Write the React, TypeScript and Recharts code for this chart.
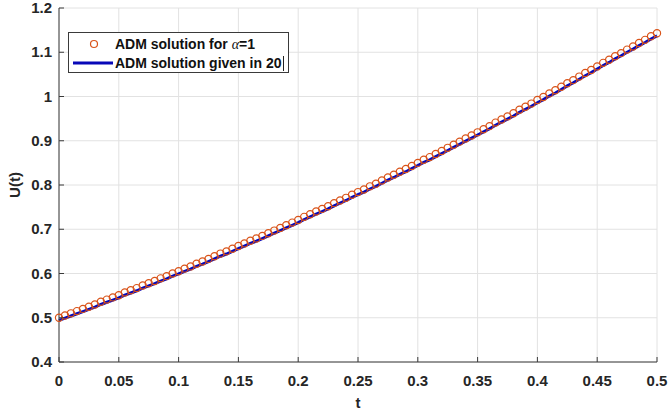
import { CartesianGrid, ComposedChart, Line, XAxis, YAxis } from "recharts";

const T_VALUES = [
  0, 0.005, 0.01, 0.015, 0.02, 0.025, 0.03, 0.035, 0.04, 0.045,
  0.05, 0.055, 0.06, 0.065, 0.07, 0.075, 0.08, 0.085, 0.09, 0.095,
  0.1, 0.105, 0.11, 0.115, 0.12, 0.125, 0.13, 0.135, 0.14, 0.145,
  0.15, 0.155, 0.16, 0.165, 0.17, 0.175, 0.18, 0.185, 0.19, 0.195,
  0.2, 0.205, 0.21, 0.215, 0.22, 0.225, 0.23, 0.235, 0.24, 0.245,
  0.25, 0.255, 0.26, 0.265, 0.27, 0.275, 0.28, 0.285, 0.29, 0.295,
  0.3, 0.305, 0.31, 0.315, 0.32, 0.325, 0.33, 0.335, 0.34, 0.345,
  0.35, 0.355, 0.36, 0.365, 0.37, 0.375, 0.38, 0.385, 0.39, 0.395,
  0.4, 0.405, 0.41, 0.415, 0.42, 0.425, 0.43, 0.435, 0.44, 0.445,
  0.45, 0.455, 0.46, 0.465, 0.47, 0.475, 0.48, 0.485, 0.49, 0.495,
  0.5,
];

// circles: ADM solution for alpha = 1
const ADM_ALPHA1 = [
  0.5, 0.505, 0.51, 0.515, 0.52, 0.525, 0.53, 0.536, 0.541, 0.546,
  0.551, 0.557, 0.562, 0.567, 0.573, 0.578, 0.583, 0.589, 0.594, 0.6,
  0.605, 0.611, 0.616, 0.622, 0.627, 0.633, 0.639, 0.645, 0.65, 0.656,
  0.662, 0.668, 0.674, 0.679, 0.685, 0.691, 0.697, 0.703, 0.709, 0.715,
  0.721, 0.728, 0.734, 0.74, 0.746, 0.752, 0.759, 0.765, 0.771, 0.778,
  0.784, 0.79, 0.797, 0.803, 0.81, 0.817, 0.823, 0.83, 0.836, 0.843,
  0.85, 0.857, 0.863, 0.87, 0.877, 0.884, 0.891, 0.898, 0.905, 0.912,
  0.919, 0.926, 0.933, 0.941, 0.948, 0.955, 0.962, 0.97, 0.977, 0.984,
  0.992, 0.999, 1.007, 1.014, 1.022, 1.03, 1.037, 1.045, 1.053, 1.06,
  1.068, 1.076, 1.083, 1.091, 1.098, 1.106, 1.113, 1.121, 1.128, 1.136,
  1.143,
];

// blue line: ADM solution given in [20]
const ADM_REF = [
  0.494, 0.499, 0.504, 0.509, 0.514, 0.519, 0.524, 0.53, 0.535, 0.54,
  0.545, 0.551, 0.556, 0.561, 0.567, 0.572, 0.577, 0.583, 0.588, 0.594,
  0.599, 0.605, 0.61, 0.616, 0.621, 0.627, 0.633, 0.639, 0.644, 0.65,
  0.656, 0.662, 0.668, 0.673, 0.679, 0.685, 0.691, 0.697, 0.703, 0.709,
  0.715, 0.722, 0.728, 0.734, 0.74, 0.746, 0.753, 0.759, 0.765, 0.772,
  0.778, 0.784, 0.791, 0.797, 0.804, 0.811, 0.817, 0.824, 0.83, 0.837,
  0.844, 0.851, 0.857, 0.864, 0.871, 0.878, 0.885, 0.892, 0.899, 0.906,
  0.913, 0.92, 0.927, 0.935, 0.942, 0.949, 0.956, 0.964, 0.971, 0.978,
  0.986, 0.993, 1.001, 1.008, 1.016, 1.024, 1.031, 1.039, 1.047, 1.054,
  1.062, 1.07, 1.077, 1.085, 1.092, 1.1, 1.107, 1.115, 1.122, 1.13,
  1.137,
];

const X_TICKS = [0, 0.05, 0.1, 0.15, 0.2, 0.25, 0.3, 0.35, 0.4, 0.45, 0.5];
const Y_TICKS = [0.4, 0.5, 0.6, 0.7, 0.8, 0.9, 1, 1.1, 1.2];

const data = T_VALUES.map((t, i) => ({ t, alpha1: ADM_ALPHA1[i], ref: ADM_REF[i] }));

const AXIS = "#3a3a3a";
const TEXT = "#262626";
const FONT = "'Liberation Sans', Arial, sans-serif";
const ORANGE = "#d95319";
const BLUE = "#0808b8";
const TICK_LEN = 5;

const fmt = (v: number) => String(v);

function BottomTick({ x, y, payload }: any) {
  return (
    <g>
      <line x1={x} x2={x} y1={y} y2={y - TICK_LEN} stroke={AXIS} />
      <text x={x} y={y + 24} textAnchor="middle" fill={TEXT} fontFamily={FONT} fontWeight="bold" fontSize={15}>
        {fmt(payload.value)}
      </text>
    </g>
  );
}

function TopTick({ x, y }: any) {
  return <line x1={x} x2={x} y1={y} y2={y + TICK_LEN} stroke={AXIS} />;
}

function LeftTick({ x, y, payload }: any) {
  return (
    <g>
      <line x1={x} x2={x + TICK_LEN} y1={y} y2={y} stroke={AXIS} />
      <text x={x - 7} y={y + 5} textAnchor="end" fill={TEXT} fontFamily={FONT} fontWeight="bold" fontSize={15}>
        {fmt(payload.value)}
      </text>
    </g>
  );
}

function RightTick({ x, y }: any) {
  return <line x1={x} x2={x - TICK_LEN} y1={y} y2={y} stroke={AXIS} />;
}

function XLabel({ viewBox }: any) {
  return (
    <text x={viewBox.x + viewBox.width / 2} y={viewBox.y + 46} textAnchor="middle" fill={TEXT} fontFamily={FONT} fontWeight="bold" fontSize={15}>
      t
    </text>
  );
}

function YLabel({ viewBox }: any) {
  const cx = viewBox.x + 20;
  const cy = viewBox.y + viewBox.height / 2;
  return (
    <text x={cx} y={cy} transform={`rotate(-90 ${cx} ${cy})`} textAnchor="middle" fill={TEXT} fontFamily={FONT} fontWeight="bold" fontSize={15}>
      U(t)
    </text>
  );
}

function LegendBox() {
  const textStyle = {
    position: "absolute" as const,
    left: 46,
    fontFamily: FONT,
    fontWeight: "bold" as const,
    fontSize: 14,
    color: "#111",
    lineHeight: "16px",
    whiteSpace: "nowrap" as const,
  };
  return (
    <div
      style={{
        position: "absolute",
        left: 68,
        top: 32,
        width: 219,
        height: 39,
        background: "#fff",
        border: `1px solid ${AXIS}`,
      }}
    >
      <svg width={44} height={39} style={{ position: "absolute", left: 0, top: 0 }}>
        <circle cx={25} cy={11} r={3.5} fill="none" stroke={ORANGE} strokeWidth={1.2} />
        <line x1={4} x2={44} y1={30} y2={30} stroke={BLUE} strokeWidth={3} />
      </svg>
      <span style={{ ...textStyle, top: 3 }}>
        ADM solution for <span style={{ fontFamily: "'Liberation Serif', serif", fontStyle: "italic", fontWeight: "normal" }}>α</span>=1
      </span>
      <span style={{ ...textStyle, top: 22 }}>ADM solution given in 20</span>
      <span style={{ position: "absolute", left: 214, top: 23, width: 1, height: 15, background: "#222" }} />
    </div>
  );
}

function XLabelWrap(props: any) {
  return <XLabel {...props} />;
}

function YLabelWrap(props: any) {
  return <YLabel {...props} />;
}

export default function App() {
  return (
    <div style={{ position: "absolute", left: 0, top: 0, width: 671, height: 413, background: "#fff" }}>
      <ComposedChart width={671} height={413} data={data} margin={{ top: 8, right: 14, bottom: 21, left: 0 }}>
        <CartesianGrid stroke="#e2e2e2" />
        <XAxis
          dataKey="t"
          type="number"
          domain={[0, 0.5]}
          ticks={X_TICKS}
          interval={0}
          height={30}
          stroke={AXIS}
          tickLine={false}
          tickSize={0}
          tickMargin={0}
          tick={<BottomTick />}
          label={<XLabelWrap />}
        />
        <XAxis
          xAxisId="top"
          orientation="top"
          dataKey="t"
          type="number"
          domain={[0, 0.5]}
          ticks={X_TICKS}
          interval={0}
          height={0}
          stroke={AXIS}
          tickLine={false}
          tickSize={0}
          tickMargin={0}
          tick={<TopTick />}
        />
        <YAxis
          type="number"
          domain={[0.4, 1.2]}
          ticks={Y_TICKS}
          interval={0}
          width={59}
          stroke={AXIS}
          tickLine={false}
          tickSize={0}
          tickMargin={0}
          tick={<LeftTick />}
          label={<YLabelWrap />}
        />
        <YAxis
          yAxisId="right"
          orientation="right"
          type="number"
          domain={[0.4, 1.2]}
          ticks={Y_TICKS}
          interval={0}
          width={0}
          stroke={AXIS}
          tickLine={false}
          tickSize={0}
          tickMargin={0}
          tick={<RightTick />}
        />
        <Line
          dataKey="alpha1"
          stroke="none"
          dot={{ r: 3.6, stroke: ORANGE, strokeWidth: 1.2, fill: "none" }}
          isAnimationActive={false}
        />
        <Line dataKey="ref" stroke={BLUE} strokeWidth={3} dot={false} isAnimationActive={false} />
      </ComposedChart>
      <LegendBox />
    </div>
  );
}
